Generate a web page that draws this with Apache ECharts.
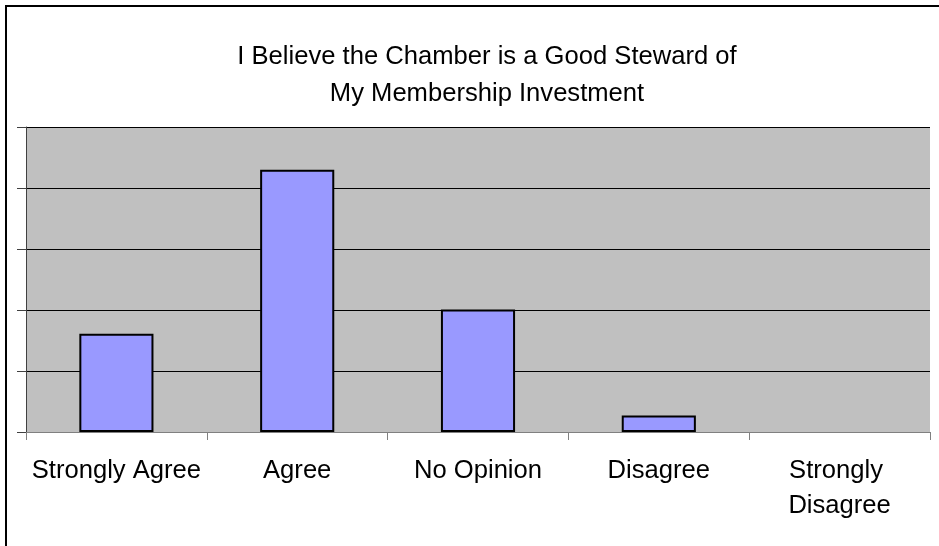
<!DOCTYPE html>
<html>
<head>
<meta charset="utf-8">
<script src="https://cdn.jsdelivr.net/npm/echarts@6/dist/echarts.min.js"></script>
<style>
  html, body { margin: 0; padding: 0; background: #fff; }
  #chart { width: 939px; height: 546px; }
</style>
</head>
<body>
<div id="chart"></div>
<script>
// Survey responses: "I Believe the Chamber is a Good Steward of My Membership Investment"
const categories = ['Strongly Agree', 'Agree', 'No Opinion', 'Disagree', 'Strongly Disagree'];
const responses = [16.1, 43, 20.1, 2.7, 0];
const titleLines = ['I Believe the Chamber is a Good Steward of', 'My Membership Investment'];

const FONT = '"Liberation Sans", Arial, sans-serif';

// Zero-height bars get no outline so nothing is drawn on the baseline.
const barData = responses.map(v => ({
  value: v,
  itemStyle: v === 0 ? { borderWidth: 0 } : undefined
}));

const chart = echarts.init(document.getElementById('chart'), null, { renderer: 'canvas' });

chart.setOption({
  animation: false,
  backgroundColor: '#ffffff',
  title: {
    text: titleLines.join('\n'),
    left: 482,
    top: 33,
    textAlign: 'center',
    textStyle: {
      fontFamily: FONT,
      fontSize: 25.6,
      fontWeight: 'normal',
      color: '#000',
      lineHeight: 37
    }
  },
  graphic: [{
    type: 'rect',
    shape: { x: 6, y: 6, width: 960, height: 580 },
    style: { fill: 'none', stroke: '#000', lineWidth: 2 },
    silent: true
  }],
  grid: {
    left: 26,
    right: 9,
    top: 127,
    bottom: 114,
    show: true,
    backgroundColor: '#c0c0c0',
    borderWidth: 0
  },
  xAxis: {
    type: 'category',
    data: categories,
    boundaryGap: true,
    axisLine: { show: true, lineStyle: { color: '#808080', width: 1 } },
    axisTick: { show: true, length: 8, lineStyle: { color: '#808080' } },
    axisLabel: {
      interval: 0,
      margin: 21,
      fontFamily: FONT,
      fontSize: 25.6,
      color: '#000',
      lineHeight: 35,
      width: 178,
      overflow: 'break'
    },
    splitLine: { show: false }
  },
  yAxis: {
    type: 'value',
    min: 0,
    max: 50,
    interval: 10,
    axisLine: { show: true, lineStyle: { color: '#404040', width: 1 } },
    axisTick: { show: true, length: 9, lineStyle: { color: '#404040' } },
    axisLabel: { show: false },
    splitLine: { show: true, lineStyle: { color: '#000', width: 1 } }
  },
  series: [{
    type: 'bar',
    data: barData,
    barWidth: '41%',
    itemStyle: {
      color: '#9999ff',
      borderColor: '#000',
      borderWidth: 2
    }
  }]
});
</script>
</body>
</html>
